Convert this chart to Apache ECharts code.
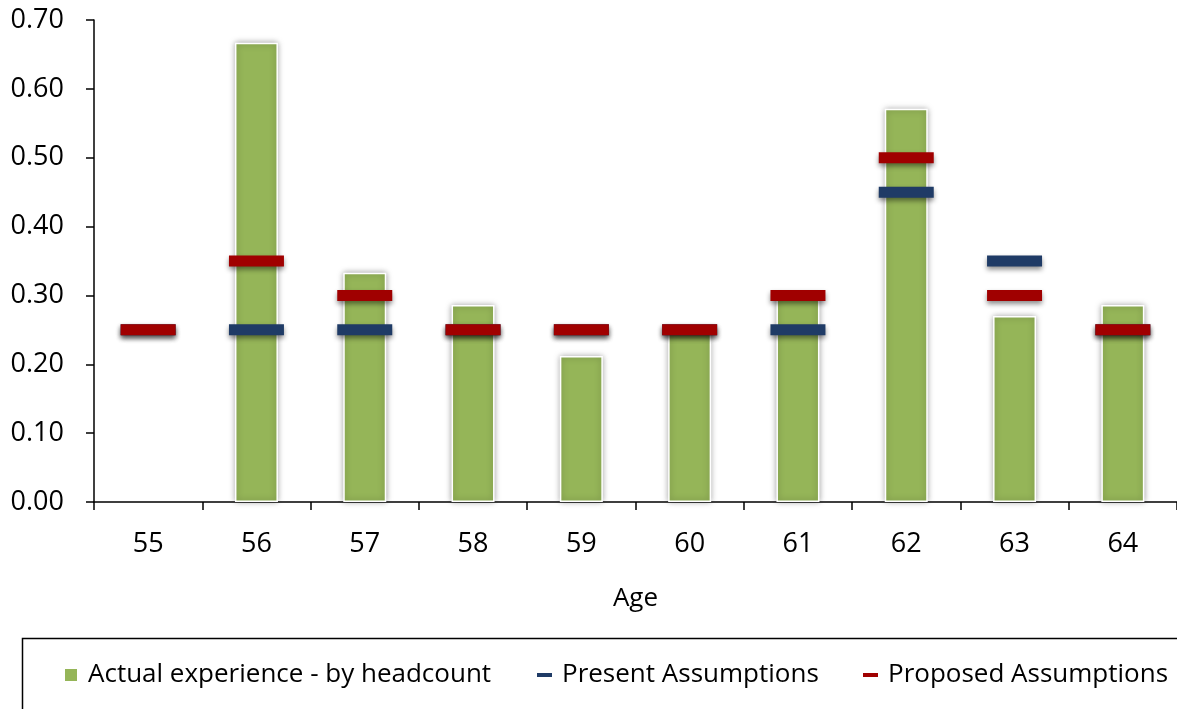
<!DOCTYPE html>
<html>
<head>
<meta charset="utf-8">
<title>Retirement experience vs assumptions by age</title>
<script src="https://cdn.jsdelivr.net/npm/echarts@6/dist/echarts.min.js"></script>
<style>
  html, body { margin: 0; padding: 0; background: #fff; }
  #chart { width: 1177px; height: 709px; }
</style>
</head>
<body>
<div id="chart"></div>
<script>
// Ages on the category axis
const ages = ['55', '56', '57', '58', '59', '60', '61', '62', '63', '64'];
// Observed rates (by headcount); no data at age 55
const actual = [null, 0.667, 0.333, 0.286, 0.212, 0.25, 0.30, 0.571, 0.27, 0.286];
// Current basis
const present = [0.25, 0.25, 0.25, 0.25, 0.25, 0.25, 0.25, 0.45, 0.35, 0.25];
// Recommended basis
const proposed = [0.25, 0.35, 0.30, 0.25, 0.25, 0.25, 0.30, 0.50, 0.30, 0.25];
// Y-axis scale
const yMin = 0, yMax = 0.7, yStep = 0.1;

const FONT = 'Open Sans';
const names = ['Actual experience - by headcount', 'Present Assumptions', 'Proposed Assumptions'];
const GREEN = '#95B558', NAVY = '#1F3B66', RED = '#A00000';

const chart = echarts.init(document.getElementById('chart'), null, { renderer: 'canvas' });

const legendText = { color: '#000', fontFamily: FONT, fontSize: 26, padding: [0, 0, 0, 5] };

const markerSeries = (name, data, color) => ({
  name, type: 'scatter', data,
  symbol: 'rect', symbolSize: [55, 11],
  itemStyle: {
    color, opacity: 1,
    shadowColor: 'rgba(0,0,0,0.45)', shadowBlur: 5, shadowOffsetY: 3
  },
  emphasis: { disabled: true },
  z: 3
});

chart.setOption({
  animation: false,
  grid: { left: 94, right: 0, top: 20, bottom: 207, containLabel: false },
  graphic: [{
    type: 'rect',
    shape: { x: 22.5, y: 638.5, width: 1200, height: 120 },
    style: { fill: 'none', stroke: '#000', lineWidth: 1.5 },
    silent: true, z: 0
  }],
  legend: [
    {
      data: [{ name: names[0], icon: 'rect' }],
      left: 63, top: 662, padding: 0,
      itemWidth: 14, itemHeight: 14,
      textStyle: legendText, selectedMode: false
    },
    {
      data: [{ name: names[1], icon: 'rect' }],
      left: 537, top: 662, padding: 0,
      itemWidth: 15, itemHeight: 4,
      textStyle: legendText, selectedMode: false
    },
    {
      data: [{ name: names[2], icon: 'rect' }],
      left: 863, top: 662, padding: 0,
      itemWidth: 15, itemHeight: 4,
      textStyle: legendText, selectedMode: false
    }
  ],
  xAxis: {
    type: 'category',
    data: ages,
    name: 'Age',
    nameLocation: 'middle',
    nameGap: 84,
    nameTextStyle: { color: '#000', fontFamily: FONT, fontSize: 26 },
    axisLine: { lineStyle: { color: '#000', width: 1.5 } },
    axisTick: { show: true, length: 8, alignWithLabel: false, lineStyle: { color: '#000', width: 1.5 } },
    axisLabel: { color: '#000', fontFamily: FONT, fontSize: 27, margin: 29 },
    splitLine: { show: false }
  },
  yAxis: {
    type: 'value',
    min: yMin, max: yMax, interval: yStep,
    axisLine: { show: true, lineStyle: { color: '#000', width: 1.5 } },
    axisTick: { show: true, length: 8, inside: false, lineStyle: { color: '#000', width: 1.5 } },
    axisLabel: {
      color: '#000', fontFamily: FONT, fontSize: 27, margin: 30,
      formatter: v => v.toFixed(2)
    },
    splitLine: { show: false }
  },
  series: [
    {
      name: names[0], type: 'bar', data: actual,
      barWidth: 43,
      itemStyle: {
        color: GREEN, borderColor: '#fff', borderWidth: 1.5,
        shadowColor: 'rgba(0,0,0,0.35)', shadowBlur: 6
      },
      emphasis: { disabled: true },
      z: 2
    },
    markerSeries(names[1], present, NAVY),
    markerSeries(names[2], proposed, RED)
  ]
});
</script>
</body>
</html>
